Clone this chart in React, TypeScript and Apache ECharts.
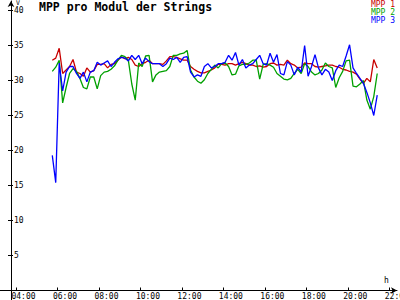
import React, { useEffect, useRef } from "react";
import * as echarts from "echarts";

const TIMES = [
  "05:45", "05:55",
  "06:05", "06:15", "06:25", "06:35", "06:45", "06:55",
  "07:05", "07:15", "07:25", "07:35", "07:45", "07:55",
  "08:05", "08:15", "08:25", "08:35", "08:45", "08:55",
  "09:05", "09:15", "09:25", "09:35", "09:45", "09:55",
  "10:05", "10:15", "10:25", "10:35", "10:45", "10:55",
  "11:05", "11:15", "11:25", "11:35", "11:45", "11:55",
  "12:05", "12:15", "12:25", "12:35", "12:45", "12:55",
  "13:05", "13:15", "13:25", "13:35", "13:45", "13:55",
  "14:05", "14:15", "14:25", "14:35", "14:45", "14:55",
  "15:05", "15:15", "15:25", "15:35", "15:45", "15:55",
  "16:05", "16:15", "16:25", "16:35", "16:45", "16:55",
  "17:05", "17:15", "17:25", "17:35", "17:45", "17:55",
  "18:05", "18:15", "18:25", "18:35", "18:45", "18:55",
  "19:05", "19:15", "19:25", "19:35", "19:45", "19:55",
  "20:05", "20:15", "20:25", "20:35", "20:45", "20:55",
  "21:05", "21:15", "21:25",
];

const MPP1 = [
  32.9, 33.2,
  34.6, 31.0, 31.5, 32.0, 33.0, 31.2,
  31.0, 30.6, 31.8, 31.2, 31.4, 32.3,
  32.3, 32.4, 31.8, 32.3, 32.4, 32.9,
  33.4, 33.1, 33.3, 33.0, 32.2, 32.0,
  32.4, 32.6, 32.9, 32.4, 32.4, 32.4,
  32.3, 32.8, 33.4, 33.4, 33.3, 33.1,
  32.9, 32.9, 32.0, 31.6, 31.3, 31.1,
  31.1, 31.3, 31.5, 31.8, 32.3, 32.3,
  32.2, 32.4, 32.4, 32.2, 32.4, 32.6,
  32.4, 32.2, 32.2, 32.0, 32.1, 31.9,
  32.0, 32.4, 32.5, 32.2, 32.3, 32.2,
  32.9, 32.4, 32.2, 31.8, 31.9, 32.5,
  32.4, 32.4, 32.0, 31.9, 32.0, 32.1,
  32.2, 32.2, 32.0, 31.9, 31.6, 31.5,
  31.3, 31.2, 30.9, 30.2, 29.6, 30.3,
  29.8, 33.0, 31.8,
];

const MPP2 = [
  31.3, 31.9,
  32.9, 26.8, 29.0, 31.0, 31.7, 31.3,
  30.3, 29.0, 28.8, 30.5, 30.5, 28.8,
  30.7, 31.2, 31.3, 31.6, 32.1, 32.9,
  33.6, 33.4, 32.9, 29.5, 27.2, 32.5,
  32.0, 33.5, 33.6, 29.8, 30.8, 31.2,
  31.3, 31.4, 32.0, 33.6, 33.6, 33.8,
  33.9, 34.3, 31.5, 30.5, 29.9, 29.6,
  30.1, 31.0, 31.6, 32.2, 31.8, 32.4,
  32.5, 32.0, 30.8, 30.9, 32.1, 32.3,
  32.3, 32.5, 32.9, 32.9, 30.2, 32.3,
  32.4, 32.2, 31.9, 31.0, 30.6, 30.2,
  30.1, 30.3, 31.0, 31.6, 31.0, 32.4,
  32.0, 31.2, 30.8, 31.0, 31.5, 32.5,
  32.0, 31.8, 29.0, 30.4, 31.3, 32.8,
  32.9, 29.2, 29.1, 29.5, 30.0, 27.2,
  25.9, 27.7, 31.0,
];

const MPP3 = [
  19.3, 15.4,
  32.5, 28.5, 31.2, 32.0, 32.0, 31.0,
  30.3, 31.2, 29.8, 31.2, 31.4, 32.6,
  32.2, 32.5, 32.8, 32.0, 32.6, 33.1,
  33.3, 33.2, 32.8, 33.6, 33.0, 33.6,
  32.4, 33.2, 32.7, 32.4, 32.4, 32.4,
  32.0, 32.4, 33.2, 33.0, 33.3, 32.6,
  33.3, 33.4, 31.2, 30.5, 30.8, 30.6,
  32.0, 32.4, 31.8, 32.0, 32.4, 32.4,
  32.6, 33.6, 32.9, 34.0, 32.2, 33.0,
  31.8, 32.2, 32.4, 33.0, 33.6, 32.4,
  32.2, 33.9, 32.6, 33.7, 31.0, 30.8,
  32.7, 32.2, 30.8, 31.9, 31.2, 35.0,
  30.6, 32.0, 33.7, 31.8, 30.8, 31.6,
  31.2, 30.0, 31.4, 32.2, 32.0, 33.5,
  35.1, 31.8, 31.0, 30.3, 29.6, 28.3,
  26.8, 25.0, 27.9,
];

const SERIES_NAMES = ["MPP 1", "MPP 2", "MPP 3"];
const SERIES_VALUES = [MPP1, MPP2, MPP3];
const COLORS = ["#c80000", "#00a000", "#0000ff"];
const X_TICKS = [4, 6, 8, 10, 12, 14, 16, 18, 20, 22];
const Y_TICKS = [5, 10, 15, 20, 25, 30, 35, 40];

const FONT = "'DejaVu Sans Mono', monospace";
const X_MIN = 3.229;
const X_MAX = 22.37;
const Y_MAX = 41.357;

const toHours = (t: string) => {
  const [h, m] = t.split(":").map(Number);
  return h + m / 60;
};

export default function App() {
  const ref = useRef<HTMLDivElement>(null);
  useEffect(() => {
    if (!ref.current) return;
    const chart = echarts.init(ref.current, undefined, { renderer: "svg" });
    const series = SERIES_VALUES.map((vals, si) => ({
      name: SERIES_NAMES[si],
      type: "line",
      xAxisIndex: 0,
      yAxisIndex: 0,
      data: TIMES.map((t, i) => [toHours(t), vals[i]]),
      showSymbol: false,
      symbol: "none",
      lineStyle: { color: COLORS[si], width: 1.3 },
      itemStyle: { color: COLORS[si] },
      z: 2 + si,
    }));
    chart.setOption({
      animation: false,
      backgroundColor: "#ffffff",
      title: {
        text: "MPP pro Modul der Strings",
        left: 39,
        top: 1,
        padding: 0,
        textStyle: { fontFamily: FONT, fontSize: 11.5, fontWeight: "bold", color: "#000" },
      },
      legend: {
        orient: "vertical",
        right: 5,
        top: 0,
        padding: 0,
        itemGap: 0,
        itemWidth: 0,
        itemHeight: 7.5,
        icon: "none",
        selectedMode: false,
        textStyle: { fontFamily: FONT, fontSize: 8, lineHeight: 7.5, padding: 0 },
        data: SERIES_NAMES.map((n, i) => ({ name: n, textStyle: { color: COLORS[i] } })),
      },
      grid: [
        { left: 0, right: 3, top: 1, bottom: 9.5, containLabel: false, outerBoundsMode: "none" },
        { left: 0, right: 3, top: 290.5, bottom: 0, containLabel: false, outerBoundsMode: "none" },
      ],
      xAxis: [
        {
          type: "value",
          gridIndex: 0,
          min: X_MIN,
          max: X_MAX,
          splitLine: { show: false },
          axisLine: {
            onZero: false,
            lineStyle: { color: "#000", width: 1 },
            symbol: ["none", "arrow"],
            symbolSize: [5, 6],
          },
          axisTick: { show: true, inside: true, length: 3, customValues: X_TICKS, lineStyle: { color: "#000" } },
          axisLabel: {
            customValues: X_TICKS,
            margin: 2,
            color: "#000",
            fontFamily: FONT,
            fontSize: 8,
            lineHeight: 8,
            formatter: (v: number) => `{s| }{t|${String(v).padStart(2, "0")}:00}`,
            rich: {
              s: { width: 15, fontFamily: FONT, fontSize: 8, lineHeight: 8 },
              t: { fontFamily: FONT, fontSize: 8, lineHeight: 8, color: "#000" },
            },
          },
          name: "h",
          nameLocation: "end",
          nameGap: -10.5,
          nameTextStyle: {
            fontFamily: FONT,
            fontSize: 8,
            color: "#000",
            align: "center",
            verticalAlign: "bottom",
            padding: [0, 0, 6, 0],
          },
        },
        {
          type: "value",
          gridIndex: 1,
          min: X_MIN,
          max: X_MAX,
          show: false,
        },
      ],
      yAxis: [
        {
          type: "value",
          gridIndex: 0,
          min: 0,
          max: Y_MAX,
          position: "left",
          offset: -11,
          splitLine: { show: false },
          axisLine: {
            show: true,
            onZero: false,
            lineStyle: { color: "#000", width: 1 },
            symbol: ["none", "arrow"],
            symbolSize: [5, 6],
          },
          axisTick: { show: true, inside: false, length: 3, customValues: Y_TICKS, lineStyle: { color: "#000" } },
          axisLabel: {
            inside: true,
            customValues: Y_TICKS,
            margin: 3,
            color: "#000",
            fontFamily: FONT,
            fontSize: 8,
          },
          name: "V",
          nameLocation: "end",
          nameGap: -5,
          nameTextStyle: {
            fontFamily: FONT,
            fontSize: 6.5,
            color: "#000",
            align: "left",
            verticalAlign: "bottom",
            padding: [0, 0, 0, 5],
          },
        },
        {
          type: "value",
          gridIndex: 0,
          min: 0,
          max: Y_MAX,
          position: "left",
          offset: -11,
          splitLine: { show: false },
          axisLine: { show: false, onZero: false },
          axisTick: { show: true, inside: true, length: 2, customValues: Y_TICKS, lineStyle: { color: "#000" } },
          axisLabel: { show: false },
        },
        {
          type: "value",
          gridIndex: 1,
          min: 0,
          max: 1,
          position: "left",
          offset: -11,
          splitLine: { show: false },
          axisLine: { show: true, onZero: false, lineStyle: { color: "#000", width: 1 } },
          axisTick: { show: false },
          axisLabel: { show: false },
        },
      ],
      series,
    });
    return () => chart.dispose();
  }, []);
  return (
    <div
      ref={ref}
      style={{ position: "fixed", left: 0, top: 0, width: 400, height: 300, background: "#fff" }}
    />
  );
}
